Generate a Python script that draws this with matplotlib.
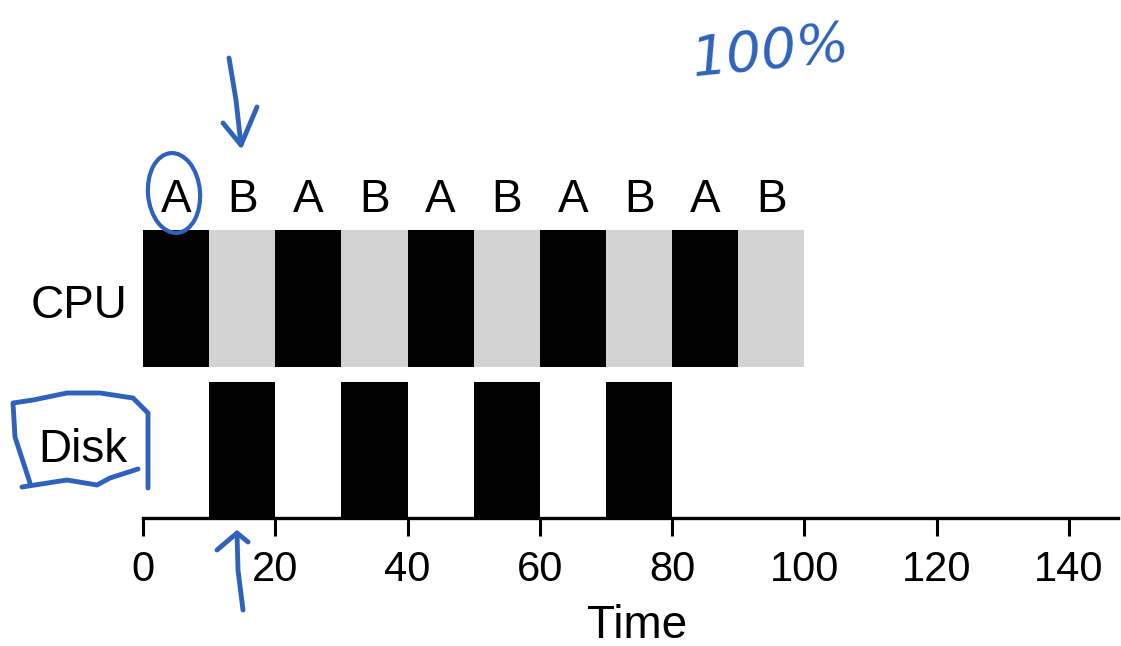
import matplotlib.pyplot as plt
from matplotlib.patches import Ellipse

# schedule data
procs = ['A', 'B', 'A', 'B', 'A', 'B', 'A', 'B', 'A', 'B']
cpu_start = [0, 10, 20, 30, 40, 50, 60, 70, 80, 90]
cpu_len = [10, 10, 10, 10, 10, 10, 10, 10, 10, 10]
disk_start = [10, 30, 50, 70]
disk_len = [10, 10, 10, 10]
ticks = [0, 20, 40, 60, 80, 100, 120, 140]
colors = {'A': 'black', 'B': '#d3d3d3'}

W, H = 1121, 646
fig = plt.figure(figsize=(W / 100, H / 100), dpi=100)
plt.rcParams['font.family'] = ['Liberation Sans', 'DejaVu Sans']

# axes from pixel 143 to 1118 (x), 518 to 140 (y)
ax = fig.add_axes([143 / W, (H - 518) / H, (1118 - 143) / W, (518 - 140) / H])
ax.set_xlim(0, 147.4)
ax.set_ylim(0, 2.78)

ax.broken_barh(list(zip(cpu_start, cpu_len)), (1.11, 1.01),
               facecolors=[colors[p] for p in procs], edgecolor='none')
ax.broken_barh(list(zip(disk_start, disk_len)), (0, 1.0),
               facecolors='black', edgecolor='none')
for s, l, p in zip(cpu_start, cpu_len, procs):
    ax.text(s + l / 2, 2.34, p, ha='center', va='center', fontsize=33)

for sp in ['top', 'left', 'right']:
    ax.spines[sp].set_visible(False)
ax.spines['bottom'].set_linewidth(2.4)
ax.set_yticks([])
ax.set_xticks(ticks)
ax.tick_params(axis='x', direction='out', length=13, width=2.2, labelsize=30, pad=10)

fig.text(127 / W, 1 - 306 / H, 'CPU', ha='right', va='center', fontsize=33)
fig.text(128 / W, 1 - 450 / H, 'Disk', ha='right', va='center', fontsize=33)
fig.text(637 / W, 1 - 626 / H, 'Time', ha='center', va='center', fontsize=33)

# handwritten annotations (pixel coords)
blue = '#2f62bd'
ov = fig.add_axes([0, 0, 1, 1])
ov.set_xlim(0, W)
ov.set_ylim(H, 0)
ov.axis('off')
ov.add_patch(Ellipse((174, 193), 52, 80, angle=-5, fill=False, ec=blue, lw=3))
ov.plot([229, 236, 241], [58, 100, 145], color=blue, lw=3.5, solid_capstyle='round')
ov.plot([223, 241, 257], [123, 145, 107], color=blue, lw=3.5, solid_capstyle='round')
ov.plot([243, 238, 237], [610, 570, 533], color=blue, lw=3.5, solid_capstyle='round')
ov.plot([217, 237, 248], [550, 533, 542], color=blue, lw=3.5, solid_capstyle='round')
ov.plot([30, 15, 13, 33, 67, 100, 133, 148, 148, 148],
        [483, 437, 403, 400, 393, 393, 398, 413, 460, 488],
        color=blue, lw=3.5, solid_capstyle='round')
ov.plot([22, 67, 97, 110, 138], [487, 480, 485, 478, 469],
        color=blue, lw=3.5, solid_capstyle='round')
ov.text(770, 52, '100%', color=blue, fontsize=40, style='italic',
        ha='center', va='center', rotation=6, family='DejaVu Sans')

fig.savefig('out.png', dpi=100)
